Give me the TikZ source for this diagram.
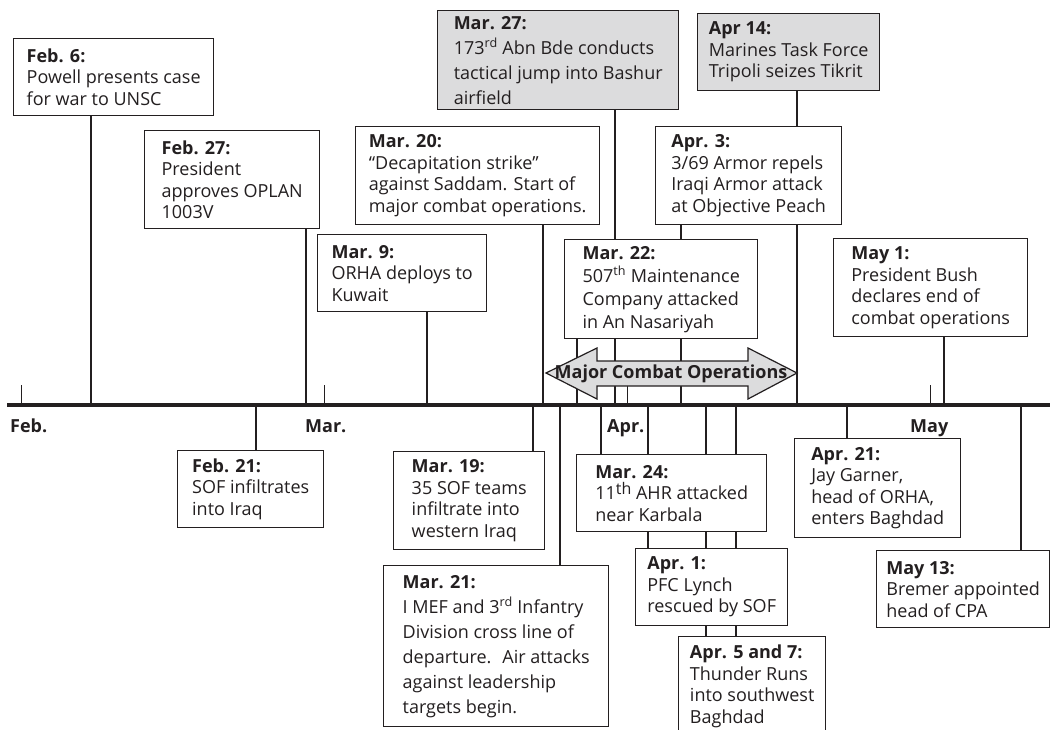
\documentclass[tikz,border=0pt]{standalone}
\usepackage{fontspec}
\setmainfont{Open Sans}
\usetikzlibrary{backgrounds}
\definecolor{ink}{HTML}{231F20}
\definecolor{shade}{HTML}{DCDCDD}
\newcommand{\sps}[1]{\textsuperscript{#1}}
\begin{document}
\begin{tikzpicture}[x=1pt,y=-1pt,
  every node/.style={text=ink},
  evbox/.style={draw=ink, line width=1.4pt, fill=white, align=left, inner sep=0pt,
    anchor=north west, font=\fontsize{18}{21.5}\selectfont},
  graybox/.style={evbox, fill=shade},
  wide/.style={font=\fontsize{18}{25}\selectfont},
  mid/.style={font=\fontsize{18}{23}\selectfont},
  conn/.style={draw=ink, line width=2.6pt},
  tick/.style={draw=ink, line width=1pt},
  month/.style={anchor=base west, inner sep=0pt, font=\fontsize{18}{21}\selectfont\bfseries}]
\useasboundingbox (0,0) rectangle (1050,730);
\clip (0,0) rectangle (1050,730);

% ---------- event boxes above the axis ----------
\node[evbox, minimum width=200, minimum height=77] (feb6) at (13,38)
  {\textbf{Feb. 6:}\\Powell presents case\\for war to UNSC};
\node[evbox, minimum width=175, minimum height=98] (feb27) at (144,130)
  {\textbf{Feb. 27:}\\President\\approves OPLAN\\1003V};
\node[evbox, minimum width=169, minimum height=77] (mar9) at (317,234)
  {\textbf{Mar. 9:}\\ORHA deploys to\\Kuwait};
\node[evbox, minimum width=244, minimum height=98] (mar20) at (355,126)
  {\textbf{Mar. 20:}\\``Decapitation strike''\\against Saddam. Start of\\major combat operations.};
\node[graybox, wide, minimum width=241, minimum height=99] (mar27) at (437,10)
  {\textbf{Mar. 27:}\\173\sps{rd} Abn Bde conducts\\tactical jump into Bashur\\airfield};
\node[evbox, mid, minimum width=193, minimum height=99] (mar22) at (564,239)
  {\textbf{Mar. 22:}\\507\sps{th} Maintenance\\Company attacked\\in An Nasariyah};
\node[evbox, minimum width=186, minimum height=98] (apr3) at (655,126)
  {\textbf{Apr. 3:}\\3/69 Armor repels\\Iraqi Armor attack\\at Objective Peach};
\node[graybox, minimum width=182, minimum height=77] (apr14) at (697,13)
  {\textbf{Apr 14:}\\Marines Task Force\\Tripoli seizes Tikrit};
\node[evbox, minimum width=194, minimum height=98] (may1) at (833,238)
  {\textbf{May 1:}\\President Bush\\declares end of\\combat operations};

% ---------- event boxes below the axis ----------
\node[evbox, minimum width=146, minimum height=77] (feb21) at (177,450)
  {\textbf{Feb. 21:}\\SOF infiltrates\\into Iraq};
\node[evbox, minimum width=151, minimum height=98] (mar19) at (393,451)
  {\textbf{Mar. 19:}\\35 SOF teams\\infiltrate into\\western Iraq};
\node[evbox, wide, minimum width=225, minimum height=161] (mar21) at (383,565)
  {\textbf{Mar. 21:}\\I MEF and 3\sps{rd} Infantry\\Division cross line of\\departure.~ Air attacks\\against leadership\\targets begin.};
\node[evbox, minimum width=190, minimum height=77] (mar24) at (576,454)
  {\textbf{Mar. 24:}\\11\raisebox{5pt}{\fontsize{16}{16}\selectfont th} AHR attacked\\near Karbala};
\node[evbox, minimum width=152, minimum height=77] (apr1) at (635,548)
  {\textbf{Apr. 1:}\\PFC Lynch\\rescued by SOF};
\node[evbox, minimum width=147, minimum height=99] (apr5) at (678,636)
  {\textbf{Apr. 5 and 7:}\\Thunder Runs\\into southwest\\Baghdad};
\node[evbox, minimum width=166, minimum height=99] (apr21) at (794,438)
  {\textbf{Apr. 21:}\\Jay Garner,\\head of ORHA,\\enters Baghdad};
\node[evbox, minimum width=173, minimum height=77] (may13) at (876,550)
  {\textbf{May 13:}\\Bremer appointed\\head of CPA};

% ---------- points on the axis ----------
\coordinate (axL) at (7,405);
\coordinate (axR) at (1050,405);
\foreach \n/\x in {feb6/91, feb27/306, mar9/427, mar20/543, mar22/577, mar27/615,
                   apr3/681, apr14/797, may1/944, feb21/256, mar19/533, mar21/560,
                   mar24/601, apr1/648, apr5/706, apr7/736, apr21/847, may13/1021,
                   mFeb/21, mMar/324, mApr/627, mMay/930}
  \coordinate (t-\n) at (\x,405);

% ---------- connectors (behind boxes) ----------
\begin{pgfonlayer}{background}
  \fill[white] (0,0) rectangle (1050,730);
  \foreach \n in {feb6, feb27, mar9, mar20, mar22, mar27, apr3, apr14, may1}
    \draw[conn] (t-\n) -- (t-\n |- \n.south);
  \foreach \n in {feb21, mar19, mar21, mar24, apr1, apr5, apr21, may13}
    \draw[conn] (t-\n) -- (t-\n |- \n.north);
  \draw[conn] (t-apr7) -- (t-apr7 |- apr5.north);
  \foreach \n in {mFeb, mMar, mApr, mMay}
    \draw[tick] (t-\n) -- ++(0,-20);
\end{pgfonlayer}

% ---------- axis ----------
\draw[draw=ink, line width=4.6pt] (axL) -- (axR);

% ---------- month labels ----------
\node[month] (lFeb) at (10,432) {Feb.};
\node[month] (lMar) at (305,432) {Mar.};
\node[month] (lApr) at (607,432) {Apr.};
\node[month] (lMay) at (910,432) {May};

% ---------- major combat operations arrow ----------
\filldraw[fill=shade, draw=ink, line width=1.2pt, line join=miter]
  (546,373) -- (597,348) -- (597,361) -- (748,361) -- (748,348) -- (797,373)
  -- (748,399) -- (748,386) -- (597,386) -- (597,399) -- cycle;
\node[inner sep=0pt, font=\fontsize{18}{21}\selectfont\bfseries] (mco) at (671,374)
  {Major Combat Operations};
\end{tikzpicture}
\end{document}
